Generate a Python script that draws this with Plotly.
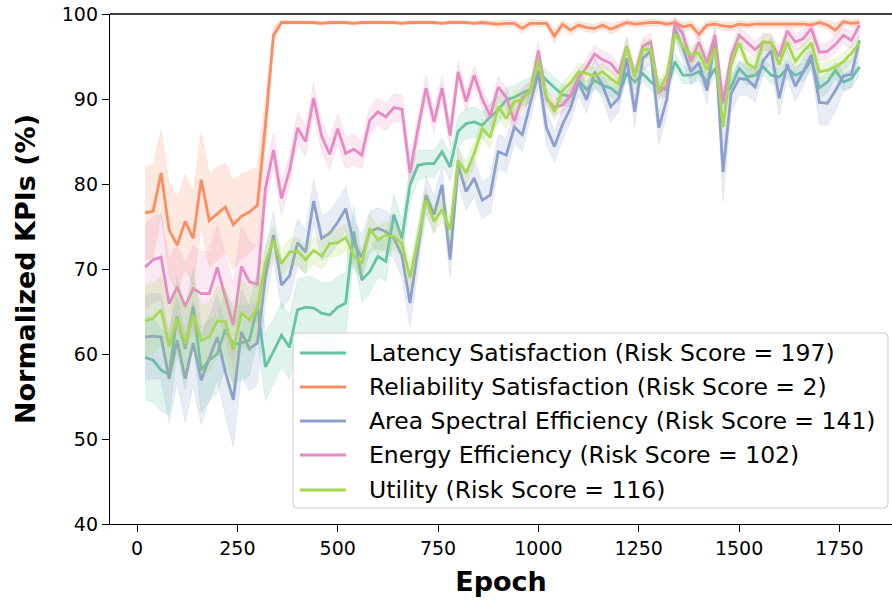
import plotly.graph_objects as go

# ---------------- data ----------------
epochs = list(range(20, 1801, 20))

latency = [59.6, 59.3, 58.1, 57.6, 64.4, 60.6, 65.6, 58.1, 59.3, 60.0,
           62.9, 61.1, 61.3, 61.6, 65.6, 58.5, 60.3, 62.2, 60.8, 65.2,
           65.5, 65.4, 64.8, 64.6, 65.5, 66.0, 74.4, 68.7, 69.7, 71.5,
           70.9, 76.4, 73.6, 79.9, 82.2, 82.4, 82.4, 83.8, 82.0, 86.2,
           87.1, 87.3, 86.9, 87.9, 88.7, 89.9, 90.2, 90.7, 91.1, 93.2,
           92.2, 91.3, 90.5, 90.3, 92.2, 91.1, 92.2, 91.6, 91.3, 90.5,
           93.0, 92.0, 93.0, 92.0, 91.4, 91.1, 94.4, 92.8, 92.8, 93.2,
           92.0, 93.6, 90.3, 91.4, 93.6, 92.6, 92.8, 93.8, 92.8, 92.6,
           93.6, 92.8, 93.2, 94.6, 91.3, 92.0, 93.4, 92.0, 92.4, 93.8]

reliability = [76.6, 76.8, 81.3, 74.6, 72.8, 75.6, 73.6, 80.5, 75.7, 76.5,
               77.3, 75.2, 76.2, 76.7, 77.5, 87.0, 97.5, 99.0, 99.0, 99.0,
               99.0, 99.0, 98.9, 99.0, 99.0, 99.0, 98.9, 99.0, 99.0, 99.0,
               99.0, 99.0, 98.9, 99.0, 99.0, 99.0, 99.0, 98.9, 99.0, 99.0,
               99.0, 98.9, 99.0, 98.9, 98.8, 98.9, 98.9, 98.3, 98.9, 98.9,
               98.9, 97.4, 98.8, 98.1, 98.7, 98.4, 98.3, 98.7, 98.2, 98.6,
               99.0, 98.8, 98.9, 99.0, 99.0, 98.8, 99.0, 98.5, 98.7, 97.6,
               98.7, 98.8, 98.6, 98.5, 98.8, 98.7, 98.8, 98.8, 98.8, 98.8,
               98.8, 98.8, 98.8, 98.7, 99.0, 98.7, 98.1, 99.1, 98.9, 99.0]

area_se = [62.0, 62.1, 62.0, 57.1, 61.6, 57.1, 61.3, 56.9, 59.5, 62.0,
           57.9, 54.6, 62.6, 60.6, 61.3, 69.1, 74.0, 68.1, 69.2, 73.1,
           72.0, 78.0, 73.6, 74.2, 75.5, 77.1, 73.0, 71.4, 74.4, 74.8,
           74.4, 73.6, 71.6, 66.0, 72.3, 78.7, 76.4, 79.9, 71.1, 82.2,
           79.1, 80.7, 78.1, 78.7, 83.8, 83.4, 86.7, 85.8, 89.5, 93.2,
           86.6, 84.4, 87.0, 88.9, 92.0, 89.9, 93.2, 91.6, 89.1, 90.1,
           94.8, 88.5, 94.8, 95.6, 86.6, 90.0, 98.3, 96.0, 93.2, 94.3,
           91.0, 97.0, 81.4, 90.6, 92.4, 92.3, 91.4, 94.5, 95.7, 90.1,
           94.1, 91.5, 93.2, 95.2, 89.6, 89.5, 91.0, 92.7, 92.9, 96.9]

energy = [70.2, 71.1, 71.4, 65.9, 67.9, 65.6, 67.7, 67.1, 67.1, 70.2,
          66.7, 63.4, 70.3, 68.5, 68.2, 79.5, 84.0, 78.3, 81.6, 86.6,
          85.0, 90.1, 85.6, 83.5, 86.5, 83.6, 84.1, 83.4, 87.5, 88.5,
          87.9, 89.0, 88.8, 81.3, 86.5, 91.3, 87.3, 91.3, 85.7, 93.2,
          89.7, 92.8, 90.0, 88.0, 91.4, 90.2, 87.4, 90.2, 90.8, 95.7,
          90.0, 89.0, 89.3, 90.4, 92.5, 93.7, 95.3, 94.6, 94.2, 93.0,
          96.2, 92.8, 96.2, 96.7, 90.7, 91.6, 98.9, 97.7, 94.4, 96.7,
          94.2, 97.5, 89.5, 95.0, 97.5, 96.6, 95.8, 96.7, 96.6, 95.0,
          98.0, 96.7, 97.1, 98.3, 95.5, 95.6, 96.4, 97.5, 96.9, 98.7]

utility = [63.9, 64.2, 65.2, 60.9, 64.2, 61.2, 64.6, 61.6, 62.0, 63.9,
           63.8, 60.5, 64.8, 64.0, 65.4, 70.7, 73.4, 70.6, 72.0, 72.1,
           71.1, 72.2, 71.5, 73.0, 73.1, 73.7, 71.6, 70.6, 74.8, 73.4,
           74.0, 73.8, 73.0, 69.0, 73.5, 78.1, 75.6, 77.0, 74.6, 82.8,
           81.3, 83.6, 86.5, 85.5, 89.1, 87.7, 89.7, 89.9, 90.9, 94.5,
           90.3, 88.5, 91.0, 91.9, 93.2, 93.0, 92.7, 93.2, 92.4, 91.8,
           96.2, 92.6, 95.8, 95.8, 90.9, 92.8, 97.7, 96.2, 95.2, 95.4,
           93.4, 96.0, 86.7, 94.0, 96.6, 94.2, 93.6, 96.7, 96.6, 94.0,
           96.7, 94.4, 95.6, 96.6, 93.2, 93.4, 93.8, 94.4, 95.4, 96.6]

# half-widths of the 95% confidence bands
latency_ci = [5.0, 5.0, 4.8, 4.8, 4.5, 4.8, 4.5, 5.0, 4.8, 4.6,
              4.5, 4.5, 4.4, 4.2, 4.0, 4.0, 3.8, 3.8, 3.8, 3.6,
              3.6, 3.6, 3.6, 3.8, 3.6, 3.6, 3.0, 2.6, 2.6, 2.4,
              2.4, 2.4, 2.2, 2.0, 1.8, 1.6, 1.6, 1.6, 1.6, 1.8,
              1.8, 1.8, 1.6, 1.6, 1.6, 1.4, 1.4, 1.4, 1.4, 1.2,
              1.2, 1.2, 1.2, 1.2, 1.0, 1.0, 1.0, 1.0, 1.0, 1.0,
              1.0, 1.0, 1.0, 1.0, 1.0, 1.0, 1.0, 1.0, 1.0, 1.0,
              1.0, 1.0, 1.2, 1.0, 1.0, 1.0, 1.0, 1.0, 1.0, 1.0,
              1.0, 1.0, 1.0, 1.0, 1.2, 1.2, 1.0, 1.0, 1.0, 1.0]

reliability_ci = [5.5, 5.5, 5.0, 5.5, 5.5, 5.5, 5.5, 5.5, 5.5, 5.5,
                  5.2, 5.2, 5.0, 4.8, 4.5, 3.0, 1.0, 0.3, 0.2, 0.2,
                  0.2, 0.2, 0.2, 0.2, 0.2, 0.2, 0.2, 0.2, 0.2, 0.2,
                  0.2, 0.2, 0.2, 0.2, 0.2, 0.2, 0.2, 0.2, 0.2, 0.2,
                  0.2, 0.2, 0.3, 0.3, 0.4, 0.4, 0.4, 0.6, 0.4, 0.4,
                  0.4, 0.8, 0.5, 0.6, 0.5, 0.5, 0.5, 0.5, 0.6, 0.5,
                  0.4, 0.4, 0.4, 0.4, 0.4, 0.4, 0.4, 0.5, 0.5, 0.7,
                  0.5, 0.4, 0.5, 0.5, 0.4, 0.4, 0.4, 0.4, 0.4, 0.4,
                  0.4, 0.4, 0.4, 0.4, 0.4, 0.5, 0.8, 0.4, 0.4, 0.4]

area_se_ci = [5.0, 5.0, 5.0, 5.2, 5.0, 5.2, 5.0, 5.2, 5.0, 5.0,
              5.2, 5.5, 5.0, 5.0, 4.8, 3.2, 2.8, 2.8, 2.8, 2.8,
              2.6, 2.6, 2.6, 2.6, 2.6, 2.6, 2.8, 2.6, 2.4, 2.4,
              2.4, 2.4, 2.6, 2.8, 2.6, 2.2, 2.2, 2.2, 2.2, 2.2,
              2.2, 2.2, 2.2, 2.2, 2.0, 2.0, 2.0, 2.0, 1.8, 1.6,
              2.0, 1.8, 1.8, 1.6, 1.6, 1.6, 1.6, 1.6, 1.8, 1.6,
              1.5, 1.8, 1.5, 1.5, 2.0, 1.8, 1.2, 1.4, 1.6, 1.5,
              1.6, 1.4, 3.5, 2.2, 2.0, 1.8, 1.8, 1.5, 1.5, 2.0,
              1.6, 1.8, 1.6, 1.5, 2.6, 2.6, 2.4, 1.8, 1.6, 1.2]

energy_ci = [5.0, 5.0, 5.0, 5.2, 5.0, 5.0, 5.0, 5.0, 5.0, 5.0,
             5.0, 5.0, 4.8, 4.8, 4.5, 2.4, 2.0, 2.0, 1.8, 1.8,
             1.8, 1.8, 1.8, 1.8, 1.8, 1.8, 1.8, 1.6, 1.6, 1.6,
             1.6, 1.6, 1.6, 1.8, 1.6, 1.4, 1.4, 1.4, 1.4, 1.2,
             1.2, 1.2, 1.2, 1.2, 1.2, 1.2, 1.2, 1.2, 1.2, 1.0,
             1.0, 1.0, 1.0, 1.0, 1.0, 1.0, 1.0, 1.0, 1.0, 1.0,
             1.0, 1.0, 1.0, 1.0, 1.0, 1.0, 0.8, 0.8, 1.0, 1.0,
             1.0, 0.8, 1.2, 1.0, 1.0, 1.0, 1.0, 1.0, 1.0, 1.0,
             1.0, 1.0, 1.0, 1.0, 1.0, 1.0, 1.0, 1.0, 1.0, 0.8]

utility_ci = [4.2, 4.2, 4.0, 4.2, 4.0, 4.2, 4.0, 4.2, 4.0, 4.0,
              4.0, 4.2, 4.0, 3.8, 3.6, 2.0, 1.6, 1.6, 1.6, 1.6,
              1.6, 1.6, 1.6, 1.6, 1.6, 1.6, 1.6, 1.6, 1.6, 1.6,
              1.6, 1.6, 1.6, 1.6, 1.6, 1.4, 1.4, 1.4, 1.4, 1.4,
              1.4, 1.4, 1.2, 1.2, 1.2, 1.2, 1.2, 1.2, 1.2, 1.0,
              1.0, 1.0, 1.0, 1.0, 1.0, 1.0, 1.0, 1.0, 1.0, 1.0,
              1.0, 1.0, 1.0, 1.0, 1.0, 1.0, 0.8, 0.8, 1.0, 1.0,
              1.0, 0.8, 1.2, 1.0, 1.0, 1.0, 1.0, 1.0, 1.0, 1.0,
              1.0, 1.0, 1.0, 1.0, 1.0, 1.0, 1.0, 1.0, 1.0, 0.8]

series_names = [
    "Latency Satisfaction (Risk Score = 197)",
    "Reliability Satisfaction (Risk Score = 2)",
    "Area Spectral Efficiency (Risk Score = 141)",
    "Energy Efficiency (Risk Score = 102)",
    "Utility (Risk Score = 116)",
]
series_values = [latency, reliability, area_se, energy, utility]
series_ci = [latency_ci, reliability_ci, area_se_ci, energy_ci, utility_ci]
colors = ["#66c2a5", "#fc8d62", "#8da0cb", "#e78ac3", "#a6d854"]

x_ticks = [0, 250, 500, 750, 1000, 1250, 1500, 1750]
y_ticks = [40, 50, 60, 70, 80, 90, 100]

# ---------------- figure ----------------
W, H = 892, 605
ML, MR, MT, MB = 110, 0, 14, 81
PW, PH = W - ML - MR, H - MT - MB


def rgba(hex_color, a):
    h = hex_color.lstrip("#")
    r, g, b = int(h[0:2], 16), int(h[2:4], 16), int(h[4:6], 16)
    return f"rgba({r},{g},{b},{a})"


def px(x):
    return (x - ML) / PW


def py(y):
    return (H - MB - y) / PH


fig = go.Figure()

for name, vals, ci, col in zip(series_names, series_values, series_ci, colors):
    upper = [v + c for v, c in zip(vals, ci)]
    lower = [v - c for v, c in zip(vals, ci)]
    fig.add_trace(go.Scatter(x=epochs, y=upper, mode="lines",
                             line=dict(color=rgba(col, 0.2), width=0.8),
                             showlegend=False, hoverinfo="skip"))
    fig.add_trace(go.Scatter(x=epochs, y=lower, mode="lines", fill="tonexty",
                             fillcolor=rgba(col, 0.2),
                             line=dict(color=rgba(col, 0.2), width=0.8),
                             showlegend=False, hoverinfo="skip"))
    fig.add_trace(go.Scatter(x=epochs, y=vals, mode="lines", name=name,
                             line=dict(color=col, width=2.8),
                             showlegend=False))

font_family = "DejaVu Sans"

fig.update_layout(
    width=W, height=H,
    margin=dict(l=ML, r=MR, t=MT, b=MB, pad=0),
    paper_bgcolor="white", plot_bgcolor="white",
    font=dict(family=font_family, color="black"),
    xaxis=dict(range=[-67.3, 1881], tickvals=x_ticks, ticks="outside",
               ticklen=7, tickwidth=1.3, tickcolor="black",
               showline=True, linecolor="black", linewidth=1.3,
               showgrid=False, zeroline=False,
               tickfont=dict(size=19, family=font_family),
               title=dict(text="Epoch", standoff=14,
                          font=dict(size=27, family=font_family, weight="bold"))),
    yaxis=dict(range=[40, 100], tickvals=y_ticks, ticks="outside",
               ticklen=7, tickwidth=1.3, tickcolor="black",
               showline=True, linecolor="black", linewidth=1.3,
               showgrid=False, zeroline=False,
               tickfont=dict(size=19, family=font_family),
               title=dict(text="Normalized KPIs (%)", standoff=18,
                          font=dict(size=27, family=font_family, weight="bold"))),
)

# top spine
fig.add_shape(type="line", xref="paper", yref="paper", x0=0, x1=1, y0=1, y1=1,
              line=dict(color="black", width=1.3))

# legend box
bx0, bx1, by0, by1, rad = 293, 888, 333, 508, 4
rx, ry = rad / PW, rad / PH
X0, X1, Y0, Y1 = px(bx0), px(bx1), py(by1), py(by0)
path = (f"M {X0 + rx},{Y0} L {X1 - rx},{Y0} Q {X1},{Y0} {X1},{Y0 + ry} "
        f"L {X1},{Y1 - ry} Q {X1},{Y1} {X1 - rx},{Y1} "
        f"L {X0 + rx},{Y1} Q {X0},{Y1} {X0},{Y1 - ry} "
        f"L {X0},{Y0 + ry} Q {X0},{Y0} {X0 + rx},{Y0} Z")
fig.add_shape(type="path", xref="paper", yref="paper", path=path,
              fillcolor="rgba(255,255,255,0.8)",
              line=dict(color="#cccccc", width=1))

row_y = [353, 387, 421, 455, 490]
for name, col, ry_px in zip(series_names, colors, row_y):
    fig.add_shape(type="line", xref="paper", yref="paper",
                  x0=px(300), x1=px(346), y0=py(ry_px), y1=py(ry_px),
                  line=dict(color=col, width=2.8))
    fig.add_annotation(xref="paper", yref="paper", x=px(367), y=py(ry_px),
                       text=name, showarrow=False, xanchor="left",
                       yanchor="middle",
                       font=dict(size=23.5, family=font_family, color="black"))

fig.write_html("out.html")
